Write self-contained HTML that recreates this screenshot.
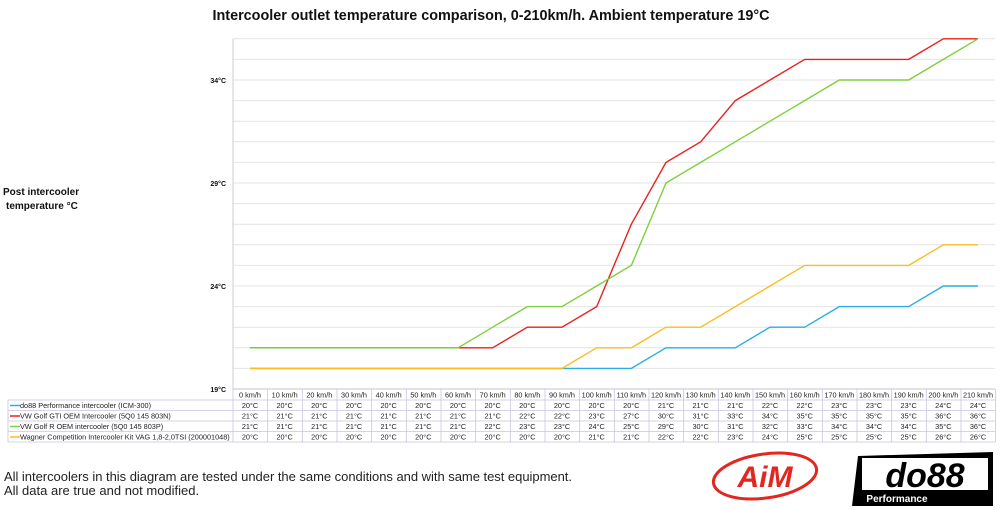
<!DOCTYPE html>
<html><head><meta charset="utf-8"><style>
body{margin:0;background:#fff;width:1000px;height:510px;overflow:hidden;font-family:"Liberation Sans",sans-serif}
svg{position:absolute;left:0;top:0}
</style></head><body>
<svg id="s" width="1000" height="510" xmlns="http://www.w3.org/2000/svg" font-family="Liberation Sans, sans-serif">
<text x="491" y="20" text-anchor="middle" font-size="14.4" font-weight="bold" fill="#111">Intercooler outlet temperature comparison, 0-210km/h. Ambient temperature 19°C</text>
<text x="3" y="195" font-size="10" font-weight="bold" fill="#111">Post intercooler</text>
<text x="6" y="209" font-size="10" font-weight="bold" fill="#111">temperature °C</text>
<g id="grid"></g>
<g id="tbl" font-size="7.3" fill="#222"></g>
<g id="lines" fill="none" stroke-width="1.4"></g>
<text x="4" y="481" font-size="13" fill="#222" textLength="568">All intercoolers in this diagram are tested under the same conditions and with same test equipment.</text>
<text x="4" y="495" font-size="13" fill="#222">All data are true and not modified.</text>
<g>
<ellipse cx="765" cy="476" rx="52" ry="22" fill="none" stroke="#e3261f" stroke-width="3" transform="rotate(-8 765 476)"/>
<text x="765" y="487" text-anchor="middle" font-size="30" font-style="italic" font-weight="bold" fill="#e3261f">AiM</text>
<polygon points="858,456 993,452 993,506 852,506" fill="#000"/>
<rect x="862" y="458" width="126" height="32" fill="#fff"/>
<text x="925" y="487" text-anchor="middle" font-size="34" font-weight="bold" font-style="italic" fill="#000">do88</text>
<text x="897" y="502" text-anchor="middle" font-size="10" font-weight="bold" fill="#fff">Performance</text>
</g>
</svg>
<script>
const ns="http://www.w3.org/2000/svg";
function el(p,t,a,txt){const e=document.createElementNS(ns,t);for(const k in a)e.setAttribute(k,a[k]);if(txt!==undefined)e.textContent=txt;document.getElementById(p).appendChild(e);return e;}
const X=i=>250+34.667*i, Y=t=>389-20.6*(t-19);
for(let t=19;t<=36;t++){el("grid","line",{x1:233,x2:995,y1:Y(t),y2:Y(t),stroke:t==19?"#bbb":"#e4e4e4","stroke-width":1});}
el("grid","line",{x1:233,x2:233,y1:39,y2:389,stroke:"#ccc"});
[19,24,29,34].forEach(t=>el("grid","text",{x:226,y:Y(t)+3,"text-anchor":"end","font-size":"7","font-weight":"bold",fill:"#111"},t+"°C"));
const D=[
["#29aee6","do88 Performance intercooler (ICM-300)",[20,20,20,20,20,20,20,20,20,20,20,20,21,21,21,22,22,23,23,23,24,24]],
["#e8231d","VW Golf GTI OEM Intercooler (5Q0 145 803N)",[21,21,21,21,21,21,21,21,22,22,23,27,30,31,33,34,35,35,35,35,36,36]],
["#7ed040","VW Golf R OEM intercooler (5Q0 145 803P)",[21,21,21,21,21,21,21,22,23,23,24,25,29,30,31,32,33,34,34,34,35,36]],
["#fbbd24","Wagner Competition Intercooler Kit VAG 1,8-2,0TSI (200001048)",[20,20,20,20,20,20,20,20,20,20,21,21,22,22,23,24,25,25,25,25,26,26]]];
const rows=[389,400,410.5,421,431.5,442];
for(let r=0;r<rows.length;r++)el("tbl","line",{x1:r==0?233:8,x2:995,y1:rows[r],y2:rows[r],stroke:"#c9c4dc","stroke-width":0.8});
el("tbl","line",{x1:8,x2:8,y1:400,y2:442,stroke:"#c9c4dc","stroke-width":0.8});
for(let i=0;i<=22;i++){const x=233+34.667*i;el("tbl","line",{x1:x,x2:x,y1:389,y2:442,stroke:"#c9c4dc","stroke-width":0.8});}
for(let i=0;i<22;i++)el("tbl","text",{x:X(i),y:397.5,"text-anchor":"middle"},(i*10)+" km/h");
D.forEach((d,r)=>{const y=rows[r+1]+8;
 el("tbl","line",{x1:10,x2:20,y1:y-2.5,y2:y-2.5,stroke:d[0],"stroke-width":1.5});
 el("tbl","text",{x:20,y:y},d[1]);
 d[2].forEach((v,i)=>el("tbl","text",{x:X(i),y:y,"text-anchor":"middle"},v+"°C"));
 el("lines","polyline",{stroke:d[0],points:d[2].map((v,i)=>X(i)+","+Y(v)).join(" ")});
});
</script>
</body></html>
